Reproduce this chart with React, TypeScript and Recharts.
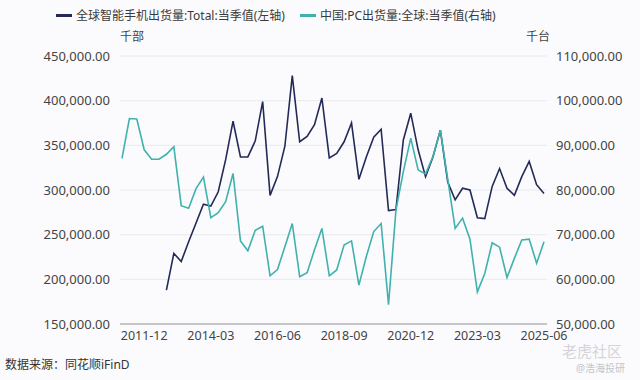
import React from 'react';
import { LineChart, Line, XAxis, YAxis, CartesianGrid } from 'recharts';

const quarters = [
  '2011-03', '2011-06', '2011-09', '2011-12',
  '2012-03', '2012-06', '2012-09', '2012-12',
  '2013-03', '2013-06', '2013-09', '2013-12',
  '2014-03', '2014-06', '2014-09', '2014-12',
  '2015-03', '2015-06', '2015-09', '2015-12',
  '2016-03', '2016-06', '2016-09', '2016-12',
  '2017-03', '2017-06', '2017-09', '2017-12',
  '2018-03', '2018-06', '2018-09', '2018-12',
  '2019-03', '2019-06', '2019-09', '2019-12',
  '2020-03', '2020-06', '2020-09', '2020-12',
  '2021-03', '2021-06', '2021-09', '2021-12',
  '2022-03', '2022-06', '2022-09', '2022-12',
  '2023-03', '2023-06', '2023-09', '2023-12',
  '2024-03', '2024-06', '2024-09', '2024-12',
  '2025-03', '2025-06',
];

// 全球智能手机出货量 (千部), left axis
const phoneShipments = [
  null, null, null, null,
  null, null, 188000, 229000,
  220000, 242000, 263000, 284000,
  282000, 298000, 334000, 377000,
  337000, 337000, 355000, 399000,
  294000, 315000, 349000, 428000,
  354000, 360000, 373000, 403000,
  336000, 341000, 354000, 375000,
  312000, 337000, 359000, 368000,
  277000, 278000, 356000, 386000,
  345000, 315000, 337000, 367000,
  309000, 289000, 302000, 300000,
  269000, 268000, 304000, 324000,
  302000, 294000, 315000, 332000,
  306000, 296000,
];

// 中国PC出货量:全球 (千台), right axis
const pcShipments = [
  87100, 96000, 95900, 89000,
  86900, 86900, 88000, 89700,
  76500, 75900, 80300, 82900,
  73800, 74900, 77400, 83700,
  68600, 66400, 71000, 71900,
  60800, 62200, 67300, 72500,
  60600, 61500, 66600, 71400,
  60800, 62100, 67700, 68600,
  58700, 65100, 70700, 72500,
  54300, 75500, 84100, 91600,
  84500, 83600, 87500, 93400,
  82400, 71400, 73700, 69000,
  57200, 61300, 68200, 67200,
  60400, 64700, 68800, 69000,
  63600, 68400,
];

const xTicks = ['2011-12', '2014-03', '2016-06', '2018-09', '2020-12', '2023-03', '2025-06'];
const leftTicks = [150000, 200000, 250000, 300000, 350000, 400000, 450000];
const rightTicks = [50000, 60000, 70000, 80000, 90000, 100000, 110000];

const data = quarters.map((q, i) => ({ q, phone: phoneShipments[i], pc: pcShipments[i] }));

const FONT = '"Noto Sans", "Noto Sans CJK SC", sans-serif';
const NAVY = '#232a58';
const TEAL = '#3fb2ad';

const fmt = (v: number) => v.toLocaleString('en-US', { minimumFractionDigits: 2, maximumFractionDigits: 2 });

const LegendItem = ({ color, label, left }: { color: string; label: string; left: number }) => (
  <div style={{ position: 'absolute', left, top: 6, display: 'flex', alignItems: 'center', fontSize: 12, color: '#3a3a3a' }}>
    <span style={{ display: 'inline-block', width: 16, height: 3, background: color, marginRight: 4 }} />
    <span>{label}</span>
  </div>
);

export default function App() {
  return (
    <div style={{ position: 'absolute', left: 0, top: 0, width: 640, height: 380, background: '#fbfbfd', fontFamily: FONT, overflow: 'hidden' }}>
      <LegendItem color={NAVY} label="全球智能手机出货量:Total:当季值(左轴)" left={56} />
      <LegendItem color={TEAL} label="中国:PC出货量:全球:当季值(右轴)" left={300} />
      <div style={{ position: 'absolute', left: 120, top: 27, fontSize: 12, color: '#444' }}>千部</div>
      <div style={{ position: 'absolute', left: 526, top: 27, fontSize: 12, color: '#444' }}>千台</div>

      <LineChart width={640} height={380} data={data} margin={{ top: 56, right: 0, bottom: 26, left: 0 }}>
        <CartesianGrid yAxisId="left" vertical={false} stroke="#e8eaee" />
        <XAxis
          dataKey="q"
          ticks={xTicks}
          interval={0}
          tickLine={false}
          tickSize={7}
          tickMargin={0}
          height={30}
          padding={{ left: 2, right: 3 }}
          axisLine={{ stroke: '#c4c6ca', strokeWidth: 2 }}
          tick={{ fontSize: 12.5, fill: '#444', fontFamily: FONT }}
        />
        <YAxis
          yAxisId="left"
          width={120}
          domain={[150000, 450000]}
          ticks={leftTicks}
          interval={0}
          axisLine={false}
          tickLine={false}
          tickSize={6}
          tickMargin={4}
          tickFormatter={fmt}
          tick={{ fontSize: 13, fill: '#444', fontFamily: FONT }}
        />
        <YAxis
          yAxisId="right"
          orientation="right"
          width={93}
          domain={[50000, 110000]}
          ticks={rightTicks}
          interval={0}
          axisLine={false}
          tickLine={false}
          tickSize={6}
          tickMargin={3}
          tickFormatter={fmt}
          tick={{ fontSize: 13, fill: '#444', fontFamily: FONT, textAnchor: 'start' }}
        />
        <Line yAxisId="left" dataKey="phone" stroke={NAVY} strokeWidth={1.6} dot={false} isAnimationActive={false} />
        <Line yAxisId="right" dataKey="pc" stroke={TEAL} strokeWidth={1.6} dot={false} isAnimationActive={false} />
      </LineChart>

      <div style={{ position: 'absolute', left: 5, top: 355, fontSize: 12, color: '#333' }}>数据来源：同花顺iFinD</div>
      <div style={{ position: 'absolute', left: 562, top: 340, fontSize: 15, color: '#d4d4d8' }}>老虎社区</div>
      <div style={{ position: 'absolute', left: 576, top: 360, fontSize: 10, color: '#c4c4c8' }}>@浩海投研</div>
    </div>
  );
}
